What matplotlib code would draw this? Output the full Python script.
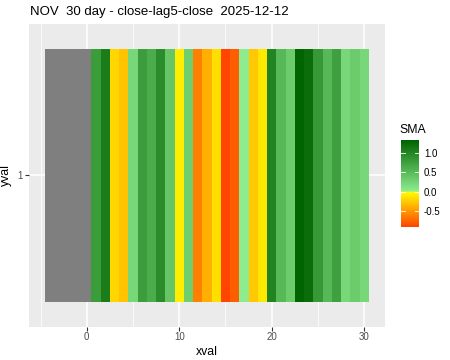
import numpy as np
import matplotlib
matplotlib.use("Agg")
import matplotlib.pyplot as plt
from matplotlib.colors import LinearSegmentedColormap, Normalize

plt.rcParams["font.family"] = ["Liberation Sans", "DejaVu Sans"]

# ---- data ----
xval = list(range(-4, 31))
sma = [np.nan, np.nan, np.nan, np.nan, np.nan,
       0.79, 1.09, -0.20, -0.29, 0.22, 0.77, 0.63, 0.94, 0.39, -0.08,
       0.30, -0.62, -0.39, -0.15, -0.91, -0.78, 0.02, -0.27, -0.11, 1.02,
       0.52, 0.33, 1.33, 1.24, 0.83, 0.52, 0.75, 0.22, 0.33, 0.22]
title = "NOV  30 day - close-lag5-close  2025-12-12"
xticks = [0, 10, 20, 30]
cbar_ticks = [1.0, 0.5, 0.0, -0.5]

vmin, vmax = np.nanmin(sma), np.nanmax(sma)
f0 = (0 - vmin) / (vmax - vmin)
cmap = LinearSegmentedColormap.from_list(
    "sma", [(0.0, "#ff4500"), (f0, "#ffff00"), (f0 + 1e-6, "#90ee90"), (1.0, "#006400")])
norm = Normalize(vmin=vmin, vmax=vmax)

fig = plt.figure(figsize=(4.5, 3.6), dpi=100)
W, H = 450, 360
ax = fig.add_axes([29 / W, 1 - 326.5 / H, (385 - 29) / W, (326.5 - 24) / H])
ax.set_facecolor("#ebebeb")

colors = ["#7f7f7f" if np.isnan(v) else cmap(norm(v)) for v in sma]
ax.bar(xval, [1.0] * len(xval), bottom=0.5, width=1.0, color=colors, linewidth=0, zorder=2)

ax.set_xlim(-6.25, 32.25)
ax.set_ylim(0.401, 1.599)
ax.set_xticks(xticks)
ax.set_xticks([-5, 5, 15, 25], minor=True)
ax.set_yticks([1])
ax.set_yticklabels(["1"])
ax.grid(True, which="major", color="white", linewidth=1.1, zorder=0)
ax.grid(True, which="minor", axis="x", color="white", linewidth=0.55, zorder=0)
for s in ax.spines.values():
    s.set_visible(False)
ax.tick_params(which="major", length=2.7, width=0.8, color="#333333",
               labelsize=7, labelcolor="#4d4d4d", pad=1.5)
ax.tick_params(which="minor", length=0)
ax.set_xlabel("xval", fontsize=8.8, color="black", labelpad=2.5)
ax.set_ylabel("yval", fontsize=8.8, color="black", labelpad=4)
fig.text(30 / W, 1 - 12 / H, title, fontsize=9.5, ha="left", va="center")

# colorbar
cax = fig.add_axes([401 / W, 1 - 227 / H, 17.5 / W, 87 / H])
grad = np.linspace(vmin, vmax, 300).reshape(-1, 1)
cax.imshow(grad, aspect="auto", cmap=cmap, norm=norm, origin="lower",
           extent=[0, 1, vmin, vmax])
cax.set_xlim(0, 1)
cax.set_ylim(vmin, vmax)
cax.set_xticks([])
cax.yaxis.tick_right()
cax.set_yticks(cbar_ticks)
cax.set_yticklabels([f"{t:.1f}" for t in cbar_ticks])
cax.tick_params(axis="y", length=0, labelsize=7, labelcolor="black", pad=4)
for t in cbar_ticks:
    cax.plot([0, 0.2], [t, t], color="white", lw=0.6)
    cax.plot([0.8, 1], [t, t], color="white", lw=0.6)
for s in cax.spines.values():
    s.set_visible(False)
fig.text(399 / W, 1 - 130 / H, "SMA", fontsize=8.8, ha="left", va="center")

fig.savefig("out.png", dpi=100)
